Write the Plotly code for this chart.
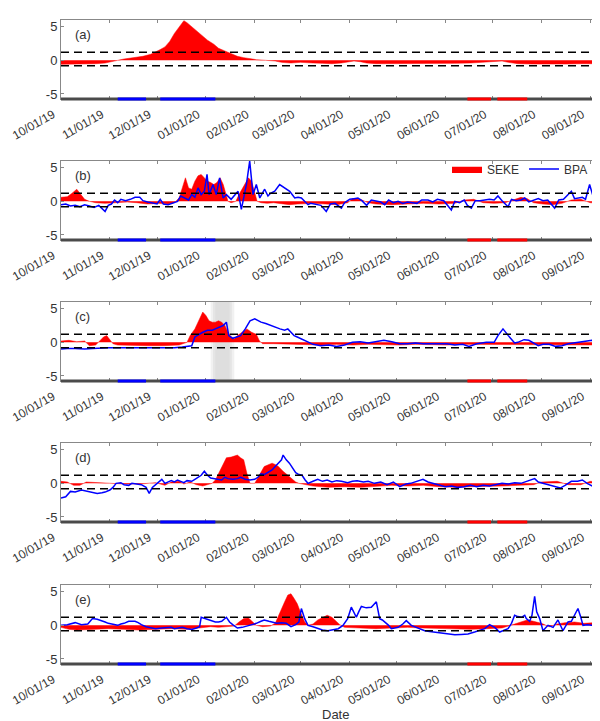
import pandas as pd
import plotly.graph_objects as go

# ---------------- data (day offsets from 2019-10-01, values) ----------------
START = "2019-10-01"
X_END = "2020-09-11"
month_ticks = ["2019-10-01", "2019-11-01", "2019-12-01", "2020-01-01", "2020-02-01", "2020-03-01",
               "2020-04-01", "2020-05-01", "2020-06-01", "2020-07-01", "2020-08-01", "2020-09-01"]
month_labels = ["10/01/19", "11/01/19", "12/01/19", "01/01/20", "02/01/20", "03/01/20",
                "04/01/20", "05/01/20", "06/01/20", "07/01/20", "08/01/20", "09/01/20"]
upper_thr = 1.2
lower_thr = -0.8
blue_periods = [("2019-11-06", "2019-11-24"), ("2019-12-03", "2020-01-07")]
red_periods = [("2020-06-15", "2020-06-30"), ("2020-07-04", "2020-07-23")]
gray_band = ("2020-01-04", "2020-01-19")
panel_letters = ["(a)", "(b)", "(c)", "(d)", "(e)"]

a_seke_day = [0, 8, 15, 22, 28, 33, 36, 40, 46, 52, 57, 60, 63, 66, 69, 72, 75, 78, 80, 83, 85, 89, 93, 97,
              100, 104, 108, 112, 116, 120, 124, 130, 136, 140, 146, 152, 157, 160, 166, 172, 178, 183, 186,
              190, 194, 200, 210, 220, 230, 240, 250, 260, 270, 276, 280, 284, 290, 300, 310, 320, 330, 340, 347]
a_seke_val = [-0.6, -0.6, -0.55, -0.5, -0.4, -0.2, 0, 0.2, 0.4, 0.6, 0.9, 1.2, 1.6, 2.0, 2.8, 4.0, 5.0, 5.9,
              5.6, 5.0, 4.5, 3.8, 3.0, 2.4, 1.8, 1.4, 1.0, 0.6, 0.4, 0.2, 0.1, 0.0, -0.1, -0.3, -0.4, -0.3,
              -0.4, -0.4, -0.45, -0.5, -0.4, -0.2, -0.1, -0.2, -0.4, -0.5, -0.5, -0.55, -0.5, -0.5, -0.45,
              -0.4, -0.3, -0.15, -0.1, -0.3, -0.5, -0.55, -0.6, -0.55, -0.5, -0.5, -0.5]

b_seke_day = [0, 4, 7, 10, 12, 15, 18, 22, 28, 35, 42, 48, 55, 62, 68, 72, 75, 77, 79, 81, 83, 85, 87, 89,
              91, 93, 95, 97, 99, 101, 103, 104.5, 106, 108, 111, 113, 115, 117, 119, 121, 123, 124.5, 127,
              131, 135, 140, 145, 150, 155, 160, 168, 175, 182, 185, 190, 195, 200, 210, 220, 230, 240, 250,
              256, 262, 268, 275, 282, 288, 292, 296, 300, 306, 312, 318, 324, 330, 336, 342, 347]
b_seke_val = [0.6, 0.7, 1.2, 1.8, 1.2, 0.3, 0, -0.2, -0.3, -0.2, -0.1, -0.2, -0.4, -0.3, -0.4, -0.2, 0.5,
              2.0, 3.5, 2.0, 1.8, 3.0, 3.8, 4.0, 3.5, 3.0, 2.8, 2.5, 2.8, 3.5, 2.5, 1.2, 0, -0.2, 0, 1.0,
              1.8, 2.5, 3.5, 3.0, 1.5, 0, -0.2, -0.3, -0.2, -0.4, -0.5, -0.4, -0.3, -0.3, -0.4, -0.5, -0.2,
              0.4, 0.3, -0.2, -0.4, -0.5, -0.4, -0.3, -0.4, -0.3, 0.2, 0.3, -0.2, -0.3, -0.2, 0.3, 0.6,
              0.4, -0.2, -0.4, -0.5, -0.3, 0.2, 0.3, -0.2, -0.3, -0.3]
b_bpa_day = [0, 3, 6, 9, 12, 15, 18, 21, 24, 26, 28, 30, 32, 34, 36, 38, 41, 44, 47, 50, 52, 55, 58, 61, 63,
             65, 68, 71, 74, 76, 79, 81, 83, 85, 87, 89, 91, 92.7, 94, 96.5, 98.6, 100.7, 102.9, 105, 108,
             110, 112.4, 114.5, 117.7, 119.8, 121.9, 124, 126.2, 129.3, 131.4, 133, 135.7, 138.8, 142,
             145.2, 148.4, 150.5, 152.6, 154.7, 156.8, 158.5, 161, 165, 168.4, 171, 174, 176, 178, 180,
             183.3, 186, 188.5, 191, 194, 197, 200, 203, 205.5, 208, 211, 214, 217, 220, 223, 226, 229,
             233, 236, 239, 243, 247.8, 250, 253, 256, 258, 260.5, 263, 266, 269, 272, 275, 277.4, 280,
             283.8, 286, 289, 292, 294.4, 297, 300, 303, 306, 309, 313.4, 316, 319, 321, 324, 326, 328,
             331, 333, 335.6, 338, 341, 344, 347]
b_bpa_val = [-0.5, -0.4, -0.7, -0.6, -0.8, -0.5, -0.7, -0.9, -0.6, -1.0, -1.5, -0.6, -0.4, 0.2, -0.2, 0.3,
             0.1, 0.3, 0.6, 0.6, 0.1, -0.1, -0.3, -0.4, 0.3, -0.4, -0.5, -0.3, 0, 0.8, 0.5, 0.2, 1.0, 0.6,
             2.0, 1.0, 1.5, 4.0, 1.0, 2.5, 1.0, 3.5, 0.5, 1.0, 0.3, 0.8, 1.5, -1.2, 2.5, 6.0, 1.0, 2.5,
             0.5, 1.8, 0.8, 1.2, 1.5, 2.5, 2.0, 1.5, 0.5, 0.6, 0.5, 0.0, -0.5, -0.3, -0.4, -0.6, -1.5,
             -0.4, -0.3, -0.6, -1.0, -0.2, 0.3, 0.4, 0.5, 0.1, -0.6, 0.2, 0.1, -0.1, -0.5, 0.2, -0.2, 0,
             -0.3, -0.1, -0.2, -0.3, 0.2, 0.2, -0.1, 0.3, 0.1, -1.3, 0, -0.2, 0.2, -0.6, -1.0, 0.1, 0.1,
             0.2, 0.3, 0.2, 0.8, 0.1, -0.8, 0.3, 0.1, 0.2, 0.5, -0.1, 0.2, 0.4, 0.1, 0.2, -1.0, 0.2, 0.3,
             0.8, 1.5, 0.4, 0.5, 0.6, 0.3, 2.5, 0.6, 0.3, 0.6, 0.6]

c_seke_day = [0, 5, 10, 15, 18, 22, 25, 27, 29, 31, 33, 36, 45, 55, 65, 75, 80, 82, 85, 88, 90, 92, 94, 96,
              98, 100, 102, 104, 106, 108, 110, 112, 115, 118, 121, 124, 126, 128, 135, 145, 155, 165, 175,
              185, 195, 205, 215, 225, 235, 245, 255, 265, 275, 285, 295, 305, 315, 325, 335, 347]
c_seke_val = [0.2, 0.3, 0.1, 0.2, -0.5, -0.4, 0.3, 0.8, 1.0, 0.3, -0.2, -0.4, -0.5, -0.5, -0.5, -0.4, 0,
              1.0, 2.0, 3.5, 4.5, 4.0, 3.2, 3.0, 3.0, 3.2, 3.0, 2.5, 1.5, 0.8, 0.5, 1.0, 1.5, 2.0, 1.5,
              1.2, 0.2, -0.2, -0.2, -0.3, -0.3, -0.4, -0.3, -0.4, -0.3, -0.4, -0.4, -0.3, -0.4, -0.4,
              -0.3, -0.3, -0.3, -0.4, -0.3, -0.4, -0.3, -0.3, -0.4, -0.4]
c_bpa_day = [0, 4, 9, 15, 20, 25, 30, 35, 40, 45, 50, 56, 62, 67, 72, 77, 81, 83, 85, 88, 90, 93, 96, 98,
             101, 103, 105, 106.5, 109, 112, 114, 117, 120, 123, 125, 127, 130, 133, 136, 139, 142, 144,
             146, 148, 150, 153, 156.8, 160, 165, 170, 175, 180, 185, 190, 195, 200, 205, 210, 215, 220,
             225, 230, 235, 240, 245, 250, 255, 259, 264, 270, 275, 277.4, 280.6, 284, 285.9, 288, 290,
             294, 297, 300, 303, 306, 310, 314, 318, 322, 326, 330, 334, 337, 341, 344, 347]
c_bpa_val = [-1.0, -0.9, -0.9, -1.0, -0.9, -0.8, -0.8, -0.8, -0.8, -0.9, -0.8, -0.9, -0.9, -0.8, -0.8,
             -0.7, -0.6, -0.5, 0.8, 1.3, 1.5, 1.8, 1.8, 2.0, 2.3, 2.5, 3.0, 1.0, 0.6, 0.8, 1.0, 2.0, 3.2,
             3.5, 3.2, 3.0, 2.8, 2.5, 2.3, 2.0, 1.8, 2.0, 1.5, 1.0, 0.8, 0.5, 0.0, -0.3, -0.5, -0.4,
             -0.6, -0.4, 0.0, 0.1, -0.1, 0.1, 0.3, 0.1, -0.2, -0.2, -0.1, -0.2, -0.2, -0.3, -0.2, -0.4,
             -0.3, -0.6, -0.2, 0.0, 0.0, 1.0, 2.0, 1.0, 0.5, -0.1, 0.0, 0.4, 0.3, -0.1, -0.5, -0.3,
             -0.3, -0.6, -0.5, -0.2, -0.1, 0.0, 0.2, 0.3, -0.1, -0.3, -0.3]

d_seke_day = [0, 4, 8, 12, 16, 22, 30, 40, 50, 60, 66, 70, 75, 78, 82, 86, 90, 93, 96, 98, 100, 102, 105,
              108, 110, 112, 114, 116, 118, 120, 123, 125, 127, 129, 132, 134, 136, 138, 141, 144, 146, 149,
              151, 156.8, 160, 170, 180, 190, 200, 210, 220, 230, 240, 250, 260, 270, 280, 290, 300, 305,
              315, 322, 330, 336, 342, 347]
d_seke_val = [0.3, 0.2, -0.3, -0.3, 0.2, 0.1, 0, -0.1, -0.1, 0.1, -0.3, 0.2, 0.3, -0.1, 0.2, -0.2, -0.4,
              -0.2, 0, 0.5, 1.5, 2.5, 3.8, 3.9, 4.0, 4.2, 3.8, 3.5, 1.5, 0, 0, 0.8, 1.5, 2.5, 2.8, 3.0,
              2.8, 2.5, 1.8, 1.2, 0.8, 0.2, 0, -0.2, -0.4, -0.6, -0.5, -0.6, -0.4, -0.3, -0.4, -0.3,
              -0.5, -0.6, -0.5, -0.5, -0.4, -0.3, -0.2, 0.2, 0.3, -0.2, -0.2, 0.3, 0.3, 0.2]
d_bpa_day = [0, 3, 6, 9, 13, 17, 20, 23, 26, 28, 31, 33, 35, 38, 40, 43, 45, 48, 51, 54, 56, 58, 60, 62,
             64, 66, 68, 70, 72, 74, 76, 78, 80, 83, 85, 87, 89, 91, 93, 95, 98, 100, 102, 104, 106, 109,
             112, 114, 117, 120, 123, 125, 127, 129, 131, 134, 136, 138, 140, 141, 143, 145, 147, 149,
             151, 153, 155, 156.8, 160, 163, 166, 169, 172, 175, 178, 182, 185, 188, 192, 195, 199, 203,
             207, 211, 215, 219, 222, 226, 229.8, 233, 236, 240, 244, 248, 252, 256, 260, 264, 268, 272,
             276, 280, 284, 288, 292, 296, 300.7, 303, 306, 310, 313, 317, 320, 324, 328, 331, 334, 338,
             342, 345, 347]
d_bpa_val = [-2.2, -2.0, -1.2, -1.3, -1.0, -1.2, -1.3, -1.5, -1.4, -1.3, -1.0, -0.6, 0.0, 0.1, -0.2, -0.3,
             0.0, -0.1, -0.2, -0.6, -1.5, -0.6, -0.2, 0.3, 0.6, 0.0, 0.2, 0.4, 0.2, 0.5, 0.3, 0.1, 0.4,
             0.3, 0.6, 0.9, 1.2, 1.8, 1.2, 0.8, 0.7, 0.6, 0.5, 0.9, 0.7, 0.6, 0.7, 0.9, 0.6, 0.5, 0.6,
             0.9, 1.4, 1.3, 1.6, 2.0, 2.5, 3.0, 3.5, 4.2, 3.5, 3.0, 2.3, 1.6, 1.3, 1.2, 0.5, 0.0, 0.3,
             0.6, 0.3, 0.5, 0.2, 0.4, 0.3, 0.1, 0.3, 0.4, 0.2, 0.3, 0.0, 0.2, -0.2, 0.2, -0.5, -0.1,
             0.0, 0.3, 0.6, 0.2, 0.0, -0.3, -0.5, -0.4, -0.6, -0.5, -0.3, -0.5, -0.3, -0.4, -0.2, 0.0,
             -0.1, 0.1, 0.0, 0.3, 0.7, 0.2, 0.0, -0.3, -0.5, -0.7, -0.3, 0.3, 0.3, 0.5, 0.0, -0.5, -0.4,
             -0.7, -0.7]

e_seke_day = [0, 5, 10, 20, 30, 40, 50, 60, 70, 80, 90, 95, 100, 106, 110, 113, 116, 119, 122, 124, 128,
              133, 136, 139, 142, 144, 146, 148, 150, 152, 154.7, 157, 160, 163, 166, 169, 172, 175, 177,
              180, 190, 200, 210, 220, 230, 240, 250, 260, 270, 280, 288, 292, 296, 300, 305, 310, 315,
              320, 326, 332, 338, 344, 347]
e_seke_val = [-0.3, -0.6, -0.7, -0.6, -0.5, -0.6, -0.7, -0.6, -0.5, -0.6, -0.4, -0.2, -0.3, -0.2, -0.1,
              0.5, 1.0, 1.1, 0.4, 0, -0.2, -0.1, 0.3, 2.0, 3.5, 4.5, 4.7, 4.0, 3.2, 2.0, 0.5, 0, 0.2,
              0.8, 1.2, 1.5, 1.2, 0.6, 0.1, -0.3, -0.4, -0.5, -0.4, -0.3, -0.4, -0.5, -0.5, -0.6, -0.5,
              -0.4, 0.2, 0.5, 0.8, 0.6, 0.3, -0.2, 0.2, 0.4, 0.5, 0.3, 0.4, 0.5, 0.5]
e_bpa_day = [0, 4, 9, 13, 17, 20, 23, 26, 28, 30, 32, 34, 36, 38, 40, 43, 47, 49, 51, 54, 57, 60, 64, 67,
             70, 72, 74, 77, 80, 83, 86, 88, 89, 92, 95, 98, 100, 102, 105, 107, 109, 112, 115, 118, 121,
             124, 127, 129, 132, 134, 137, 140, 143, 146, 149, 151, 152.6, 154.7, 156.8, 160, 163, 166,
             169.5, 173, 176, 179, 180, 182, 184.3, 186, 187.5, 189, 190.7, 193.8, 197, 200.2, 202.3, 204,
             205.5, 208, 209.7, 212, 214, 217, 219.2, 222.4, 226.6, 230.9, 234, 237.2, 240, 243.6, 247,
             250, 254, 258.4, 262.6, 266, 269, 272.1, 275.3, 278.5, 281, 283.8, 286, 288, 290, 292.3,
             294.4, 295.4, 297.5, 299, 300.7, 302, 303.9, 306, 308, 309.2, 312.4, 315.5, 318.7, 321.9,
             324, 326.1, 328.2, 330, 331.4, 334, 336.7, 340.9, 344, 347.3]
e_bpa_val = [0.0, 0.1, 0.4, 0.1, 0.2, 1.0, 0.9, 0.7, 0.5, 0.3, 0.2, 0.1, 0.0, 0.2, 0.3, 0.6, 0.6, 0.4,
             0.1, -0.2, -0.4, -0.5, -0.4, -0.4, -0.3, -0.5, -0.4, -0.3, -0.5, -0.6, -0.4, -0.2, 1.2, 1.0,
             0.8, 0.5, 0.5, 0.6, 1.2, 0.5, 0.1, -0.4, -0.3, -0.1, 0.0, 0.3, 0.6, 0.8, 0.6, 0.5, 0.3, 0.4,
             0.3, -0.2, 0.1, 0.5, 2.5, 1.0, 0.0, -0.2, -0.5, -0.7, -0.8, -0.6, -0.5, 0.0, 0.3, 1.0, 2.7,
             1.8, 1.2, 2.0, 2.8, 2.6, 2.7, 3.5, 1.0, 0.8, 0.5, 0.0, -0.5, -0.4, -0.3, 0.2, 0.7, 0.0,
             -0.4, -0.8, -0.9, -1.0, -1.1, -1.3, -1.4, -1.4, -1.35, -1.3, -1.0, -0.7, -0.5, 0.1, -0.3,
             -1.0, -0.8, -0.5, 0.3, 1.5, 1.3, 1.2, 1.5, 1.0, 0.6, 1.5, 4.3, 2.0, 1.0, -0.8, -0.3, 0.0,
             -0.3, 0.8, -0.8, 0.5, 0.6, 1.5, 2.5, 1.2, 0.0, 0.1, 0.0, 0.3, 0.1, 0.0]

seke_days = [a_seke_day, b_seke_day, c_seke_day, d_seke_day, e_seke_day]
seke_vals = [a_seke_val, b_seke_val, c_seke_val, d_seke_val, e_seke_val]
bpa_days = [None, b_bpa_day, c_bpa_day, d_bpa_day, e_bpa_day]
bpa_vals = [None, b_bpa_val, c_bpa_val, d_bpa_val, e_bpa_val]

# ---------------- figure ----------------
W, H = 600, 721
start = pd.Timestamp(START)


def to_dates(days):
    return [start + pd.Timedelta(days=float(d)) for d in days]


panel_top_px = [12, 153, 294, 435, 577]
panel_h_px = 79
x_dom = [53 / W, 598 / W]
YR = [-5.75, 6.0]
FONT = "Liberation Sans, Arial, sans-serif"
TXT = "#333333"

fig = go.Figure()
layout = dict(width=W, height=H, margin=dict(l=0, r=0, t=0, b=0),
              paper_bgcolor="white", plot_bgcolor="white",
              font=dict(family=FONT, size=12, color=TXT),
              showlegend=True, shapes=[], annotations=[])

for i in range(5):
    n = "" if i == 0 else str(i + 1)
    xa, ya = "x" + n, "y" + n
    top = panel_top_px[i]
    bot = top + panel_h_px
    layout["xaxis" + n] = dict(domain=x_dom, anchor=ya, type="date", range=[START, X_END],
                               tickvals=month_ticks, ticktext=month_labels, tickangle=-30,
                               tickfont=dict(size=12, color=TXT, family=FONT),
                               ticklabelshift=-8, ticklabelstandoff=3,
                               automargin=False,
                               showline=True, linecolor="#888888", linewidth=1, mirror="allticks",
                               ticks="inside", ticklen=3, tickcolor="#888888",
                               showgrid=False, zeroline=False)
    layout["yaxis" + n] = dict(domain=[1 - bot / H, 1 - top / H], anchor=xa, range=YR,
                               tickvals=[-5, 0, 5], ticktext=["-5", "0", "5"],
                               tickfont=dict(size=13, color=TXT, family=FONT),
                               automargin=False,
                               showline=True, linecolor="#888888", linewidth=1, mirror="allticks",
                               ticks="inside", ticklen=3, tickcolor="#888888",
                               showgrid=False, zeroline=False)

    fig.add_trace(go.Scatter(x=to_dates(seke_days[i]), y=seke_vals[i], mode="lines",
                             fill="tozeroy", fillcolor="rgb(255,0,0)",
                             line=dict(color="rgb(255,0,0)", width=0.5),
                             name="SEKE", showlegend=(i == 1), xaxis=xa, yaxis=ya))
    if bpa_days[i] is not None:
        fig.add_trace(go.Scatter(x=to_dates(bpa_days[i]), y=bpa_vals[i], mode="lines",
                                 line=dict(color="rgb(0,0,255)", width=1.5),
                                 name="BPA", showlegend=(i == 1), xaxis=xa, yaxis=ya))

    xd = xa + " domain"
    yd = ya + " domain"
    # threshold dashed lines
    for thr in (upper_thr, lower_thr):
        layout["shapes"].append(dict(type="line", xref=xd, yref=ya, x0=0, x1=1, y0=thr, y1=thr,
                                     line=dict(color="black", width=1.6, dash="8px,5px"), layer="above"))
    # thick bottom axis line
    layout["shapes"].append(dict(type="line", xref=xd, yref=yd, x0=0, x1=1, y0=0, y1=0,
                                 line=dict(color="#4a4a4a", width=3), layer="above"))
    for (p0, p1) in blue_periods:
        layout["shapes"].append(dict(type="line", xref=xa, yref=yd, x0=p0, x1=p1, y0=0, y1=0,
                                     line=dict(color="rgb(0,0,255)", width=3), layer="above"))
    for (p0, p1) in red_periods:
        layout["shapes"].append(dict(type="line", xref=xa, yref=yd, x0=p0, x1=p1, y0=0, y1=0,
                                     line=dict(color="rgb(255,0,0)", width=3), layer="above"))
    # panel letter
    layout["annotations"].append(dict(text=panel_letters[i], xref=xd, yref=yd, x=0.022, y=0.82,
                                      xanchor="left", yanchor="middle", showarrow=False,
                                      font=dict(size=13, color=TXT, family=FONT)))

# soft gray shading in panel (c)
g0, g1 = pd.Timestamp(gray_band[0]), pd.Timestamp(gray_band[1])
span = (g1 - g0)
for k, op in enumerate([0.35, 0.45, 0.5]):
    frac = 0.1 * k
    layout["shapes"].append(dict(type="rect", xref="x3", yref="y3 domain",
                                 x0=g0 + span * frac, x1=g1 - span * frac, y0=0, y1=1,
                                 fillcolor="rgb(215,215,215)", opacity=op, line=dict(width=0),
                                 layer="below"))

layout["legend"] = dict(orientation="h", x=439 / W, y=1 - 161 / H, xanchor="left", yanchor="middle",
                        bgcolor="rgba(0,0,0,0)", font=dict(size=12, color=TXT, family=FONT),
                        itemwidth=30, tracegroupgap=0)
layout["annotations"].append(dict(text="Date", xref="paper", yref="paper", x=327 / W, y=1 - 706 / H,
                                  xanchor="center", yanchor="middle", showarrow=False,
                                  font=dict(size=13, color=TXT, family=FONT)))
fig.update_layout(**layout)
fig.write_html("out.html")
